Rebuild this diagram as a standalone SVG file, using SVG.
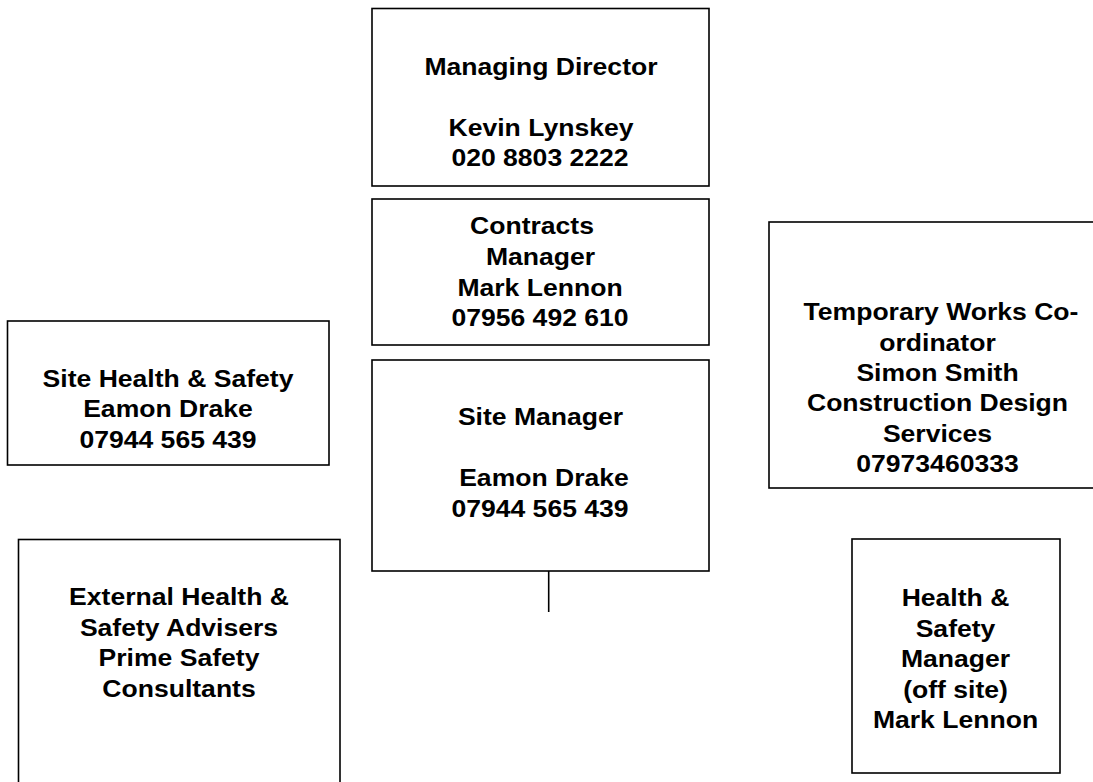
<svg xmlns="http://www.w3.org/2000/svg" width="1093" height="782" viewBox="0 0 1093 782">
<style>
.box{fill:#fff;stroke:#000;stroke-width:1.6}
.t{font-family:"Liberation Sans",Arial,sans-serif;font-weight:bold;font-size:23.3px;fill:#000;text-anchor:middle}
.conn{stroke:#000;stroke-width:1.6;fill:none}
</style>
<rect width="1093" height="782" fill="#fff"/>
<g id="managing-director">
<rect class="box" x="372" y="8.5" width="337" height="177.5"/>
<text class="t" transform="translate(541 75) scale(1.14 1)">Managing Director</text>
<text class="t" transform="translate(541 136) scale(1.14 1)">Kevin Lynskey</text>
<text class="t" transform="translate(540 166) scale(1.14 1)">020 8803 2222</text>
</g>
<g id="contracts-manager">
<rect class="box" x="372" y="199" width="337" height="146"/>
<text class="t" transform="translate(532 234) scale(1.14 1)">Contracts</text>
<text class="t" transform="translate(540.5 265) scale(1.14 1)">Manager</text>
<text class="t" transform="translate(540 295.5) scale(1.14 1)">Mark Lennon</text>
<text class="t" transform="translate(540 325.5) scale(1.14 1)">07956 492 610</text>
</g>
<g id="site-manager">
<rect class="box" x="372" y="360" width="337" height="211"/>
<text class="t" transform="translate(540.5 425) scale(1.14 1)">Site Manager</text>
<text class="t" transform="translate(544 486) scale(1.14 1)">Eamon Drake</text>
<text class="t" transform="translate(540 516.5) scale(1.14 1)">07944 565 439</text>
</g>
<g id="site-health-safety">
<rect class="box" x="7.5" y="321" width="321.5" height="144"/>
<text class="t" transform="translate(168 387) scale(1.14 1)">Site Health &amp; Safety</text>
<text class="t" transform="translate(168 417) scale(1.14 1)">Eamon Drake</text>
<text class="t" transform="translate(168 447.5) scale(1.14 1)">07944 565 439</text>
</g>
<g id="external-health-safety">
<rect class="box" x="18.5" y="539.5" width="321.5" height="260"/>
<text class="t" transform="translate(179 605) scale(1.14 1)">External Health &amp;</text>
<text class="t" transform="translate(179 635.5) scale(1.14 1)">Safety Advisers</text>
<text class="t" transform="translate(179 666) scale(1.14 1)">Prime Safety</text>
<text class="t" transform="translate(179 696.5) scale(1.14 1)">Consultants</text>
</g>
<g id="temporary-works">
<rect class="box" x="769" y="222" width="340" height="266"/>
<text class="t" transform="translate(941 320) scale(1.14 1)">Temporary Works Co-</text>
<text class="t" transform="translate(937.5 350.5) scale(1.14 1)">ordinator</text>
<text class="t" transform="translate(937.5 381) scale(1.14 1)">Simon Smith</text>
<text class="t" transform="translate(937.5 411) scale(1.14 1)">Construction Design</text>
<text class="t" transform="translate(937.5 441.5) scale(1.14 1)">Services</text>
<text class="t" transform="translate(937.5 472) scale(1.14 1)">07973460333</text>
</g>
<g id="hs-manager">
<rect class="box" x="852" y="539" width="208" height="234"/>
<text class="t" transform="translate(955.5 606) scale(1.14 1)">Health &amp;</text>
<text class="t" transform="translate(955.5 636.5) scale(1.14 1)">Safety</text>
<text class="t" transform="translate(955.5 667) scale(1.14 1)">Manager</text>
<text class="t" transform="translate(955.5 697.5) scale(1.14 1)">(off site)</text>
<text class="t" transform="translate(955.5 728) scale(1.14 1)">Mark Lennon</text>
</g>
<g id="connectors">
<line class="conn" x1="548.7" y1="571" x2="548.7" y2="612"/>
</g>
</svg>
